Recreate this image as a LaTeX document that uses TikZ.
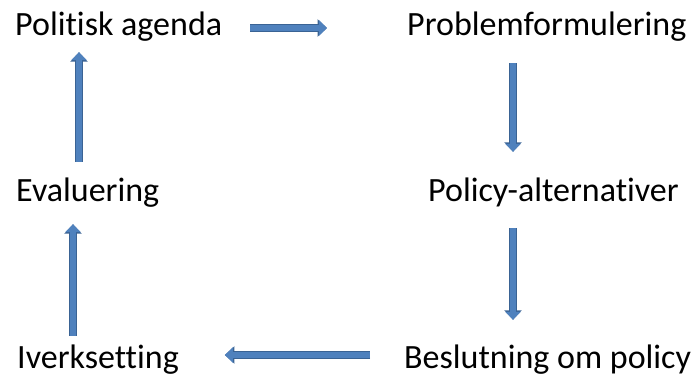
\documentclass[tikz,border=0pt]{standalone}
\usepackage{fontspec}
\setmainfont{Carlito}[Ligatures={NoCommon}]
\usepackage{tikz}
\usetikzlibrary{arrows.meta}
\definecolor{arrfill}{HTML}{4F81BD}
\definecolor{arrline}{HTML}{3A6394}

\begin{document}
\begin{tikzpicture}[
        x=1pt, y=-1pt,
        stage/.style={anchor=base west, inner sep=0pt, text height=24pt, text depth=8pt, font=\fontsize{34}{40}\selectfont},
        blockarr/.style={draw=arrfill, line width=6.5pt, -{Triangle[width=15pt, length=8pt]},
            preaction={draw=arrline, line width=8pt, -{Triangle[width=17pt, length=9.5pt]}}},
    ]
        \useasboundingbox (0,0) rectangle (695,379);

        % Stages
        \node[stage] (agenda) at (15,36) {Politisk agenda};
        \node[stage] (problem) at (407,36) {Problemformulering};
        \node[stage] (alternativ) at (428,202) {Policy-alternativer};
        \node[stage] (beslutning) at (404,368) {Beslutning om policy};
        \node[stage] (iverk) at (17,368) {Iverksetting};
        \node[stage] (evaluering) at (16,202) {Evaluering};

        % Arrows
        \draw[blockarr, shorten <=28pt, shorten >=80pt] (agenda.east) -- (problem.west);
        \draw[blockarr, shorten <=19pt, shorten >=26pt] ([xshift=106pt]problem.south west) -- ([xshift=106pt]problem.south west |- alternativ.north);
        \draw[blockarr, shorten <=18pt, shorten >=24pt] ([xshift=85pt]alternativ.south west) -- ([xshift=85pt]alternativ.south west |- beslutning.north);
        \draw[blockarr, shorten <=34pt, shorten >=46pt] ([yshift=5pt]beslutning.west) -- ([yshift=5pt]beslutning.west -| iverk.east);
        \draw[blockarr, shorten <=8pt, shorten >=14pt] ([xshift=56pt]iverk.north west) -- ([xshift=56pt]iverk.north west |- evaluering.south);
        \draw[blockarr, shorten <=16pt, shorten >=8pt] ([xshift=63pt]evaluering.north west) -- ([xshift=63pt]evaluering.north west |- agenda.south);
    \end{tikzpicture}
\end{document}
